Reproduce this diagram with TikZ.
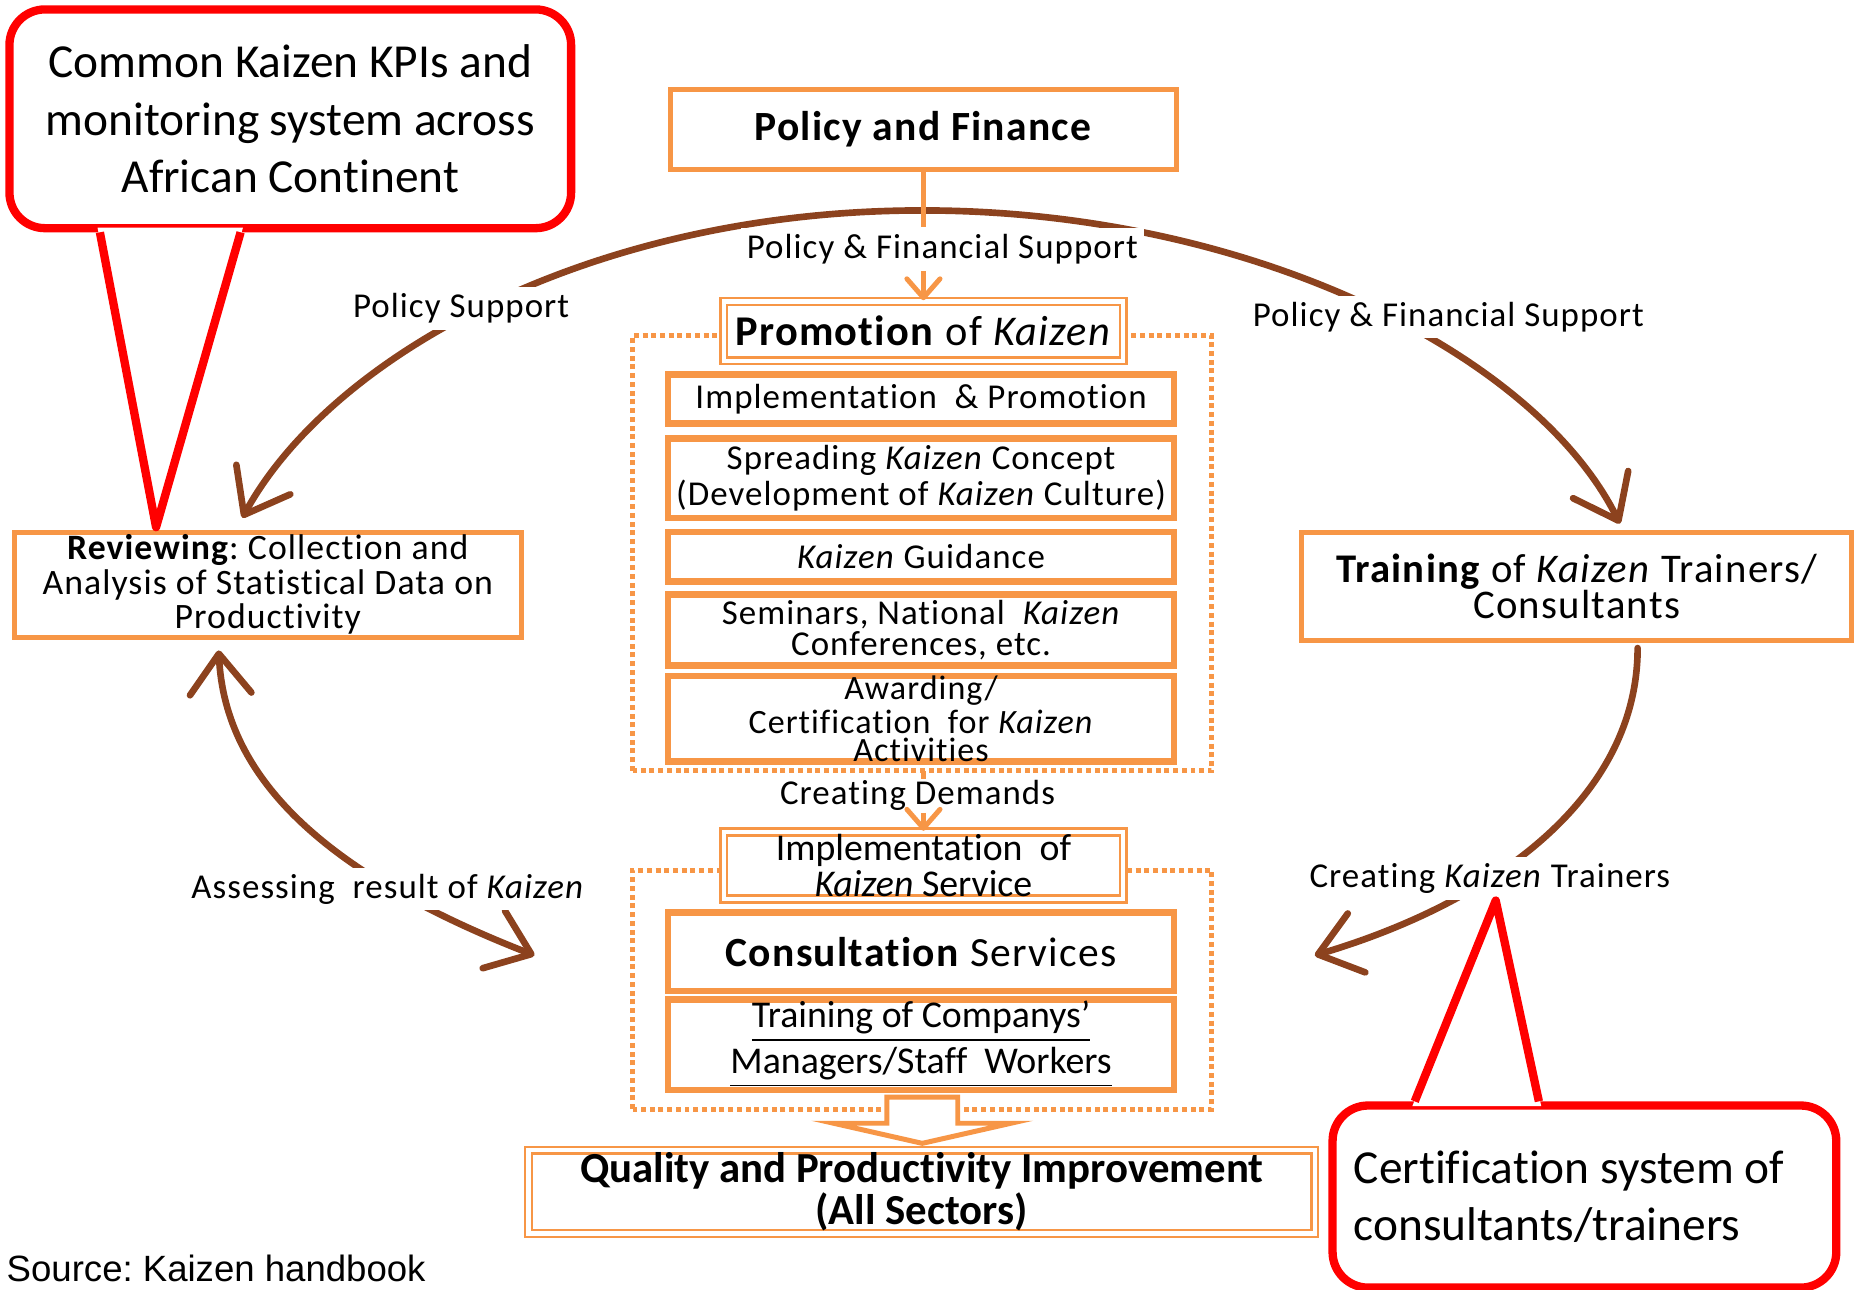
\documentclass[tikz,border=0pt]{standalone}
\usepackage{fontspec}
\setmainfont{Carlito}[Ligatures={NoCommon,NoContextual}]
\newfontfamily\spaced{Carlito}[LetterSpace=3.0, Ligatures={NoCommon,NoContextual}]
\newfontfamily\srcfont{Liberation Sans}
\usetikzlibrary{arrows.meta}

\definecolor{kzorange}{HTML}{F79646}
\definecolor{kzbrown}{RGB}{140,66,30}
\definecolor{kzred}{RGB}{255,0,0}

\newcommand\spacedsize[2]{\spaced\fontsize{#1}{#2}\selectfont}
\newcommand\plainsize[2]{\rmfamily\fontsize{#1}{#2}\selectfont}

\tikzset{
  headbox/.style={draw=kzorange, line width=1.2pt, fill=white, align=center, inner sep=0.5pt},
  itembox/.style={draw=kzorange, line width=1.6pt, fill=white, align=center, inner sep=0.5pt,
    minimum width=42.8mm, font=\spacedsize{8.4}{7.2}},
  dblbox/.style={draw=kzorange, line width=0.6pt, double=white, double distance=1pt,
    fill=white, align=center, inner sep=0.5pt},
  dotbox/.style={draw=kzorange, line width=1.2pt, dash pattern=on 1.2pt off 0.9pt},
  flowlabel/.style={fill=white, inner sep=1.5pt, font=\spacedsize{8.4}{8}},
  brownloop/.style={draw=kzbrown, line width=1.6pt, line cap=round},
  feedline/.style={draw=kzorange, line width=1.2pt},
  notebox/.style={draw=kzred, line width=2pt, fill=white, rounded corners=3mm,
    font=\plainsize{11.4}{13.8}},
  barb/.tip={Straight Barb[length=3.4mm, width=5.2mm, round]},
  smallbarb/.tip={Straight Barb[length=1.6mm, width=2.8mm, round]}
}

\begin{document}
\frenchspacing
\begin{tikzpicture}[x=0.1mm,y=0.1mm]

    % Fix the page to the size of the figure
    \useasboundingbox (0,0) rectangle (1568,1091);

    % Dotted frames round the two groups
    \coordinate (pframeSW) at (535,439);
    \coordinate (pframeNE) at (1025,807);
    \coordinate (sframeSW) at (535,153);
    \coordinate (sframeNE) at (1025,355);
    \draw[dotbox] (pframeSW) rectangle (pframeNE);
    \draw[dotbox] (sframeSW) rectangle (sframeNE);

    % Top box
    \node[headbox, minimum width=42.8mm, minimum height=6.7mm, font=\spacedsize{10}{8.5}]
      (pf) at (781,981.5) {\textbf{Policy and Finance}};

    % Promotion group
    \node[dblbox, minimum width=33.8mm, minimum height=5mm, font=\spacedsize{10.2}{8.5}]
      (promo) at (781,811) {\textbf{Promotion} of \textit{Kaizen}};
    \node[itembox, minimum height=4.1mm] (impl) at (779,753.5) {Implementation\ \ \& Promotion};
    \node[itembox, minimum height=6.7mm, font=\spacedsize{8.4}{7}] (spread) at (779,686.5)
      {Spreading \textit{Kaizen} Concept\\(Development of \textit{Kaizen} Culture)};
    \node[itembox, minimum height=4.2mm] (guide) at (779,620) {\textit{Kaizen} Guidance};
    \node[itembox, minimum height=6mm, font=\spacedsize{8.4}{7.6}] (seminar) at (779,558)
      {Seminars, National\ \ \textit{Kaizen}\\Conferences,\ etc.};
    \node[itembox, minimum height=7.1mm, inner sep=0pt, font=\spacedsize{8.2}{6.8}] (award) at (779,483)
      {Awarding/\\Certification\ \ for \textit{Kaizen}\\Activities};

    % Service group
    \node[dblbox, minimum width=33.8mm, minimum height=5mm, font=\plainsize{9.1}{7.7}]
      (service) at (781,359) {Implementation\ \ of\\\textit{Kaizen} Service};
    \node[itembox, minimum height=6.6mm, font=\spacedsize{10}{8.5}] (consult) at (779,286)
      {\textbf{Consultation} Services};
    \node[itembox, minimum height=6.7mm, font=\plainsize{9.1}{7.7}] (trainco) at (779,207.5)
      {\underline{Training of Companys'}\\\underline{Managers/Staff\ \ Workers}};

    % Result box
    \node[dblbox, minimum width=66.5mm, minimum height=6.4mm, font=\plainsize{10.3}{8.3}\bfseries]
      (quality) at (779.5,83) {Quality and Productivity Improvement\\(All Sectors)};

    % Side boxes
    \node[headbox, minimum width=42.9mm, minimum height=8.9mm, font=\spacedsize{8.6}{8.3}]
      (review) at (226.5,596.5) {\textbf{Reviewing}: Collection and\\Analysis of Statistical Data on\\Productivity};
    \node[headbox, minimum width=46.5mm, minimum height=9.2mm, font=\spacedsize{9.8}{8.6}]
      (trainer) at (1333.5,595) {\textbf{Training} of \textit{Kaizen} Trainers/\\Consultants};

    % Brown cycle arrows
    \coordinate (apex) at (780,913);
    \draw[brownloop, -barb] (apex) .. controls (500,913) and (280,790) .. ([xshift=-2.15mm,yshift=1mm]review.north);
    \draw[brownloop, -barb] (apex) .. controls (1060,913) and (1300,790) .. ([xshift=3.65mm,yshift=0.5mm]trainer.north);
    \coordinate (ctend) at (1112,283);
    \draw[brownloop, -barb] ([xshift=5.15mm,yshift=-0.4mm]trainer.south) .. controls (1385,420) and (1270,330) .. (ctend);
    \coordinate (arend) at (452,283);
    \draw[brownloop, barb-barb] ([xshift=-4.15mm,yshift=-0.9mm]review.south) .. controls (190,430) and (280,350) .. (arend);

    % Labels on the arrows
    \node[flowlabel] (lblpfs) at (797,880) {Policy \& Financial Support};
    \node[flowlabel] (lblps) at (390,830) {Policy Support};
    \node[flowlabel] (lblpfs2) at (1225,823) {Policy \& Financial Support};
    \node[flowlabel, inner sep=0.3pt] (lbldem) at (776,418) {Creating Demands};
    \node[flowlabel] (lblckt) at (1260,348) {Creating \textit{Kaizen} Trainers};
    \node[flowlabel] (lblark) at (328,339) {Assessing\ \ result of \textit{Kaizen}};

    % Orange feed lines
    \draw[feedline] (pf.south) -- (pf.south |- lblpfs.north);
    \draw[feedline, -smallbarb] (pf.south |- lblpfs.south) -- (promo.north);
    \draw[feedline] (promo.south |- pframeSW) -- (promo.south |- lbldem.north);
    \draw[feedline, -smallbarb] (service.north |- lbldem.south) -- (service.north);

    % Block arrow down to the result
    \draw[feedline, fill=white, line join=miter] (750,163) -- (750,141) -- (705,141) -- (780,124)
      -- (855,141) -- (810,141) -- (810,163) -- cycle;

    % Red call-outs
    \node[notebox, minimum width=47.5mm, minimum height=18.5mm, align=center]
      (kpinote) at (245.5,990.5) {Common Kaizen KPIs and\\monitoring system across\\African Continent};
    \coordinate (kpitip) at ([xshift=-9.45mm,yshift=0.2mm]review.north);
    \coordinate (kpibaseL) at ([xshift=8mm]kpinote.south west);
    \coordinate (kpibaseR) at ([xshift=19.9mm]kpinote.south west);
    \fill[white] ([xshift=-0.2mm,yshift=0.4mm]kpibaseL) -- (kpitip) -- ([xshift=0.2mm,yshift=0.4mm]kpibaseR) -- cycle;
    \draw[kzred, line width=2pt, line join=round] (kpibaseL) -- (kpitip) -- (kpibaseR);

    \node[notebox, minimum width=42.6mm, minimum height=15.4mm, text width=39mm, inner sep=0pt, align=flush left]
      (certnote) at (1340,79) {Certification system of\\consultants/trainers};
    \coordinate (certtip) at ([xshift=0.5mm]lblckt.south);
    \coordinate (certbaseL) at ([xshift=7.3mm]certnote.north west);
    \coordinate (certbaseR) at ([xshift=17.8mm]certnote.north west);
    \fill[white] ([xshift=-0.2mm,yshift=-0.4mm]certbaseL) -- (certtip) -- ([xshift=0.2mm,yshift=-0.4mm]certbaseR) -- cycle;
    \draw[kzred, line width=2pt, line join=round] (certbaseL) -- (certtip) -- (certbaseR);

    % Source line
    \node[anchor=base west, inner sep=0pt, font=\srcfont\fontsize{8.8}{10}\selectfont]
      (src) at (5,7) {Source: Kaizen handbook};

\end{tikzpicture}
\end{document}
